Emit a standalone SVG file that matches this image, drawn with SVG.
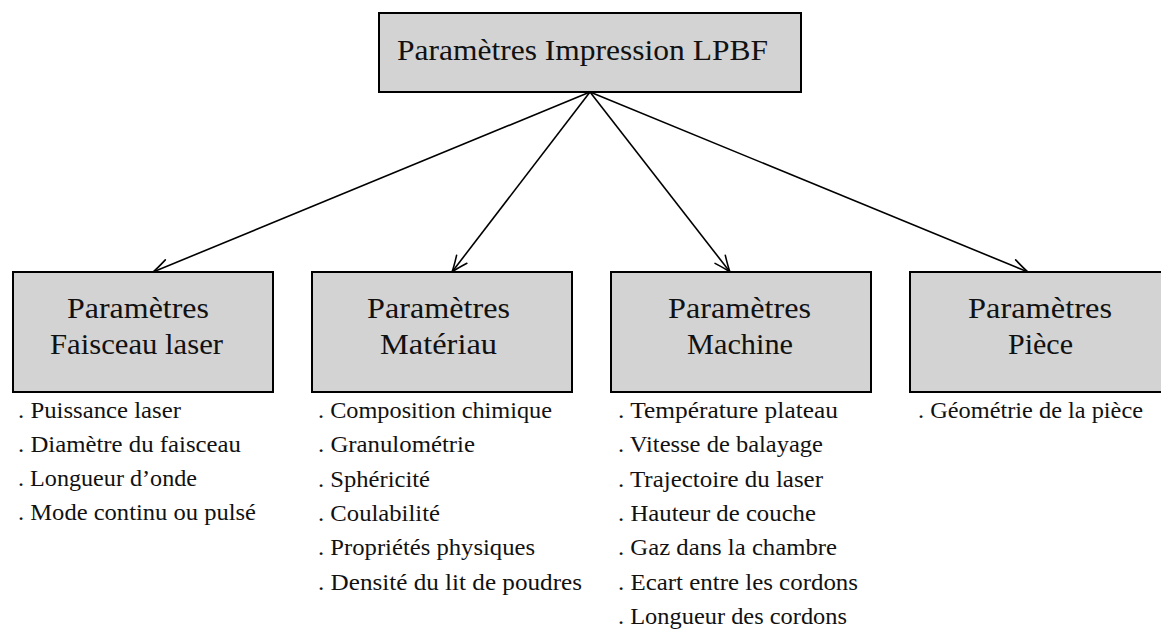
<svg xmlns="http://www.w3.org/2000/svg" width="1161" height="636" viewBox="0 0 1161 636">
<style>
.box{fill:#d3d3d3;stroke:#000;stroke-width:2}
text{font-family:'Liberation Serif','DejaVu Serif',serif;fill:#111}
.t{font-size:30px}
.l{font-size:22.5px}
.c{fill:none;stroke:#000;stroke-width:1.6}
</style>
<defs>
<marker id="arr" markerUnits="userSpaceOnUse" markerWidth="24" markerHeight="16" viewBox="-20 -8 24 16" refX="0" refY="0" orient="auto" overflow="visible">
<path d="M -16 -6.5 Q -5 -1.5 0 0 Q -5 1.5 -16 6.5" fill="none" stroke="#000" stroke-width="1.6" stroke-linecap="round"/>
</marker>
</defs>
<rect width="1161" height="636" fill="#fff"/>
<g id="connectors">
<line class="c" x1="590" y1="92" x2="153" y2="272" marker-end="url(#arr)"/>
<line class="c" x1="590" y1="92" x2="452" y2="272" marker-end="url(#arr)"/>
<line class="c" x1="590" y1="92" x2="730" y2="272" marker-end="url(#arr)"/>
<line class="c" x1="590" y1="92" x2="1028" y2="272" marker-end="url(#arr)"/>
</g>
<g id="root">
<rect class="box" x="379" y="13" width="422" height="79"/>
<text class="t" font-family="Liberation Serif, serif" x="397" y="60" textLength="371" lengthAdjust="spacingAndGlyphs">Paramètres Impression LPBF</text>
</g>
<g id="faisceau" font-family="Liberation Serif, serif">
<rect class="box" x="13" y="272" width="260" height="120"/>
<text class="t" x="67" y="318" textLength="142" lengthAdjust="spacingAndGlyphs">Paramètres</text>
<text class="t" x="50" y="354" textLength="173" lengthAdjust="spacingAndGlyphs">Faisceau laser</text>
<text class="l" x="18" y="418" textLength="163" lengthAdjust="spacingAndGlyphs">. Puissance laser</text>
<text class="l" x="18" y="452" textLength="223" lengthAdjust="spacingAndGlyphs">. Diamètre du faisceau</text>
<text class="l" x="18" y="486" textLength="179" lengthAdjust="spacingAndGlyphs">. Longueur d’onde</text>
<text class="l" x="18" y="520" textLength="238" lengthAdjust="spacingAndGlyphs">. Mode continu ou pulsé</text>
</g>
<g id="materiau">
<rect class="box" x="312" y="272" width="260" height="120"/>
<text class="t" x="367" y="318" textLength="143" lengthAdjust="spacingAndGlyphs">Paramètres</text>
<text class="t" x="380" y="354" textLength="117" lengthAdjust="spacingAndGlyphs">Matériau</text>
<text class="l" x="318" y="418" textLength="234" lengthAdjust="spacingAndGlyphs">. Composition chimique</text>
<text class="l" x="318" y="452.3" textLength="157" lengthAdjust="spacingAndGlyphs">. Granulométrie</text>
<text class="l" x="318" y="486.6" textLength="112" lengthAdjust="spacingAndGlyphs">. Sphéricité</text>
<text class="l" x="318" y="520.9" textLength="122" lengthAdjust="spacingAndGlyphs">. Coulabilité</text>
<text class="l" x="318" y="555.2" textLength="217" lengthAdjust="spacingAndGlyphs">. Propriétés physiques</text>
<text class="l" x="318" y="589.5" textLength="264" lengthAdjust="spacingAndGlyphs">. Densité du lit de poudres</text>
</g>
<g id="machine">
<rect class="box" x="611" y="272" width="260" height="120"/>
<text class="t" x="668" y="318" textLength="143" lengthAdjust="spacingAndGlyphs">Paramètres</text>
<text class="t" x="687" y="354" textLength="106" lengthAdjust="spacingAndGlyphs">Machine</text>
<text class="l" x="618" y="418" textLength="220" lengthAdjust="spacingAndGlyphs">. Température plateau</text>
<text class="l" x="618" y="452.3" textLength="205" lengthAdjust="spacingAndGlyphs">. Vitesse de balayage</text>
<text class="l" x="618" y="486.6" textLength="205" lengthAdjust="spacingAndGlyphs">. Trajectoire du laser</text>
<text class="l" x="618" y="520.9" textLength="198" lengthAdjust="spacingAndGlyphs">. Hauteur de couche</text>
<text class="l" x="618" y="555.2" textLength="219" lengthAdjust="spacingAndGlyphs">. Gaz dans la chambre</text>
<text class="l" x="618" y="589.5" textLength="240" lengthAdjust="spacingAndGlyphs">. Ecart entre les cordons</text>
<text class="l" x="618" y="623.8" textLength="229" lengthAdjust="spacingAndGlyphs">. Longueur des cordons</text>
</g>
<g id="piece">
<rect class="box" x="910" y="272" width="260" height="120"/>
<text class="t" x="968" y="318" textLength="144" lengthAdjust="spacingAndGlyphs">Paramètres</text>
<text class="t" x="1008" y="354" textLength="65" lengthAdjust="spacingAndGlyphs">Pièce</text>
<text class="l" x="918" y="418" textLength="225" lengthAdjust="spacingAndGlyphs">. Géométrie de la pièce</text>
</g>
</svg>
